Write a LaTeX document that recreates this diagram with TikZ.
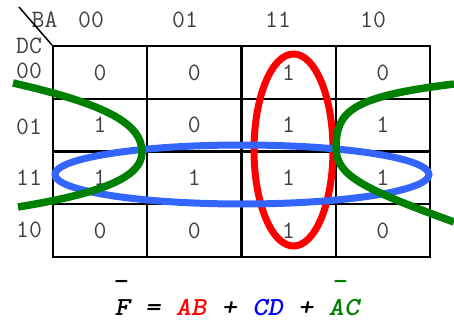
\documentclass[tikz,border=0pt]{standalone}
\usepackage{fontspec}
\definecolor{txtgray}{HTML}{404040}
\definecolor{loopred}{HTML}{FF0000}
\definecolor{loopblue}{HTML}{3366FF}
\definecolor{textblue}{HTML}{0000FF}
\definecolor{loopgreen}{HTML}{008000}
\tikzset{
  lbl/.style={inner sep=0pt, text=txtgray, font=\ttfamily\fontsize{25}{25}\selectfont},
  cell/.style={lbl, draw=black, line width=2pt, minimum width=94.25pt, minimum height=52.75pt},
  loop/.style={line width=7pt},
  frm/.style={inner sep=0pt, font=\ttfamily\bfseries\itshape\fontsize{26}{26}\selectfont\addfontfeature{FakeBold=2}},
}
\begin{document}
\begin{tikzpicture}[x=1pt,y=-1pt]
\useasboundingbox (0,0) rectangle (454,321);
% header labels
\node[lbl] (ba) at (44.5,19.5) {BA};
\node[lbl] (h00) at (91,19.5) {00};
\node[lbl] (h01) at (185,19.5) {01};
\node[lbl] (h11) at (278,19.5) {11};
\node[lbl] (h10) at (373,19.5) {10};
\node[lbl] (dc) at (29,46) {DC};
\node[lbl] (r00) at (29,71) {00};
\node[lbl] (r01) at (29,127) {01};
\node[lbl] (r11) at (29,178) {11};
\node[lbl] (r10) at (29,230) {10};
% cells
\node[cell] (c00a) at (100.1,72.4) {0};
\node[cell] (c00b) at (194.4,72.4) {0};
\node[cell] (c00c) at (288.6,72.4) {1};
\node[cell] (c00d) at (382.9,72.4) {0};
\node[cell] (c01a) at (100.1,125.1) {1};
\node[cell] (c01b) at (194.4,125.1) {0};
\node[cell] (c01c) at (288.6,125.1) {1};
\node[cell] (c01d) at (382.9,125.1) {1};
\node[cell] (c11a) at (100.1,177.9) {1};
\node[cell] (c11b) at (194.4,177.9) {1};
\node[cell] (c11c) at (288.6,177.9) {1};
\node[cell] (c11d) at (382.9,177.9) {1};
\node[cell] (c10a) at (100.1,230.6) {0};
\node[cell] (c10b) at (194.4,230.6) {0};
\node[cell] (c10c) at (288.6,230.6) {1};
\node[cell] (c10d) at (382.9,230.6) {0};
% diagonal
\coordinate (dtop) at (19,7);
\draw[line width=1.5pt] (dtop) -- (c00a.north west);
% loops
\draw[loop, loopred] (293.5,150) ellipse [x radius=39.5pt, y radius=96pt];
\draw[loop, loopblue] (242,174.5) ellipse [x radius=187pt, y radius=29.5pt];
\draw[loop, loopgreen, line width=7.5pt] (13,83) .. controls (110,105) and (142,125) .. (142,152)
   .. controls (142,175) and (110,192) .. (18,207);
\draw[loop, loopgreen, line width=7.5pt] (454,84) .. controls (348,97) and (336,112) .. (336,150)
   .. controls (338,175) and (360,188) .. (454,222);
% formula
\node[frm, anchor=base] (formula) at (237,315.5) {\scalebox{1.12}[1]{F = \textcolor{loopred}{AB} + \textcolor{textblue}{CD} + \textcolor{loopgreen}{AC}}};
\node[frm, anchor=base] (bar1) at (120,289) {\scalebox{1.12}[1]{-}};
\node[frm, anchor=base, text=loopgreen] (bar2) at (339,289) {\scalebox{1.12}[1]{-}};
\end{tikzpicture}
\end{document}
